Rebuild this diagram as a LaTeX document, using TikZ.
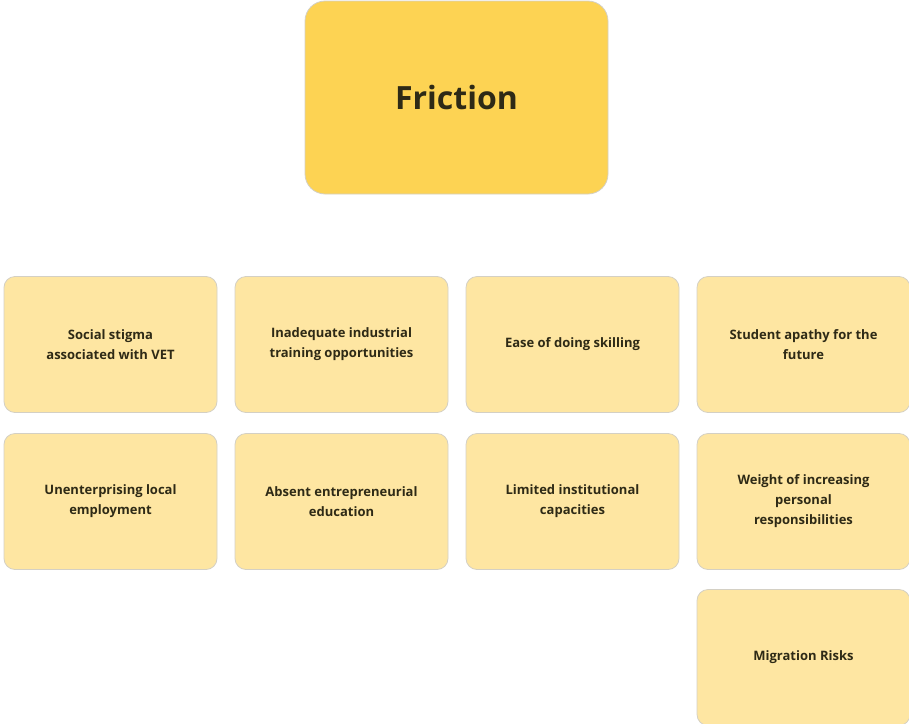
\documentclass[tikz,border=0pt]{standalone}
\usepackage{fontspec}
\setmainfont{Open Sans}
\definecolor{titlefill}{HTML}{FDD353}
\definecolor{cardfill}{HTML}{FEE6A2}
\definecolor{edge}{HTML}{D4D0C4}
\definecolor{ink}{HTML}{2E2A16}
\tikzset{
  x=1pt, y=-1pt,
  titlebox/.style={draw=edge, line width=0.8pt, fill=titlefill, rounded corners=20pt,
    minimum width=303pt, minimum height=193pt, inner sep=0pt,
    font=\fontsize{32}{40}\selectfont\bfseries, text=ink},
  card/.style={draw=edge, line width=0.8pt, fill=cardfill, rounded corners=11pt,
    minimum width=213pt, minimum height=136pt, inner sep=0pt, align=center,
    font=\fontsize{13}{20}\selectfont\bfseries, text=ink},
}
\begin{document}
\begin{tikzpicture}
\useasboundingbox (0,0) rectangle (909,723);
\clip (0,0) rectangle (909,723);
% heading
\node[titlebox] (friction) at (456.5,97.5) {\raisebox{-2pt}{Friction}};
% first row
\node[card] (stigma)   at (110.5,344.5) {Social stigma\\associated with VET};
\node[card] (training) at (341.5,344.5) {Inadequate industrial\\training opportunities};
\node[card] (ease)     at (572.5,344.5) {Ease of doing skilling};
\node[card] (apathy)   at (803.5,344.5) {Student apathy for the\\future};
% second row
\node[card] (local)    at (110.5,501.5) {Unenterprising local\\employment};
\node[card] (entre)    at (341.5,501.5) {Absent entrepreneurial\\education};
\node[card] (instit)   at (572.5,501.5) {Limited institutional\\capacities};
\node[card] (weight)   at (803.5,501.5) {Weight of increasing\\personal\\responsibilities};
% third row
\node[card] (migration) at (803.5,657.5) {Migration Risks};
\end{tikzpicture}
\end{document}
